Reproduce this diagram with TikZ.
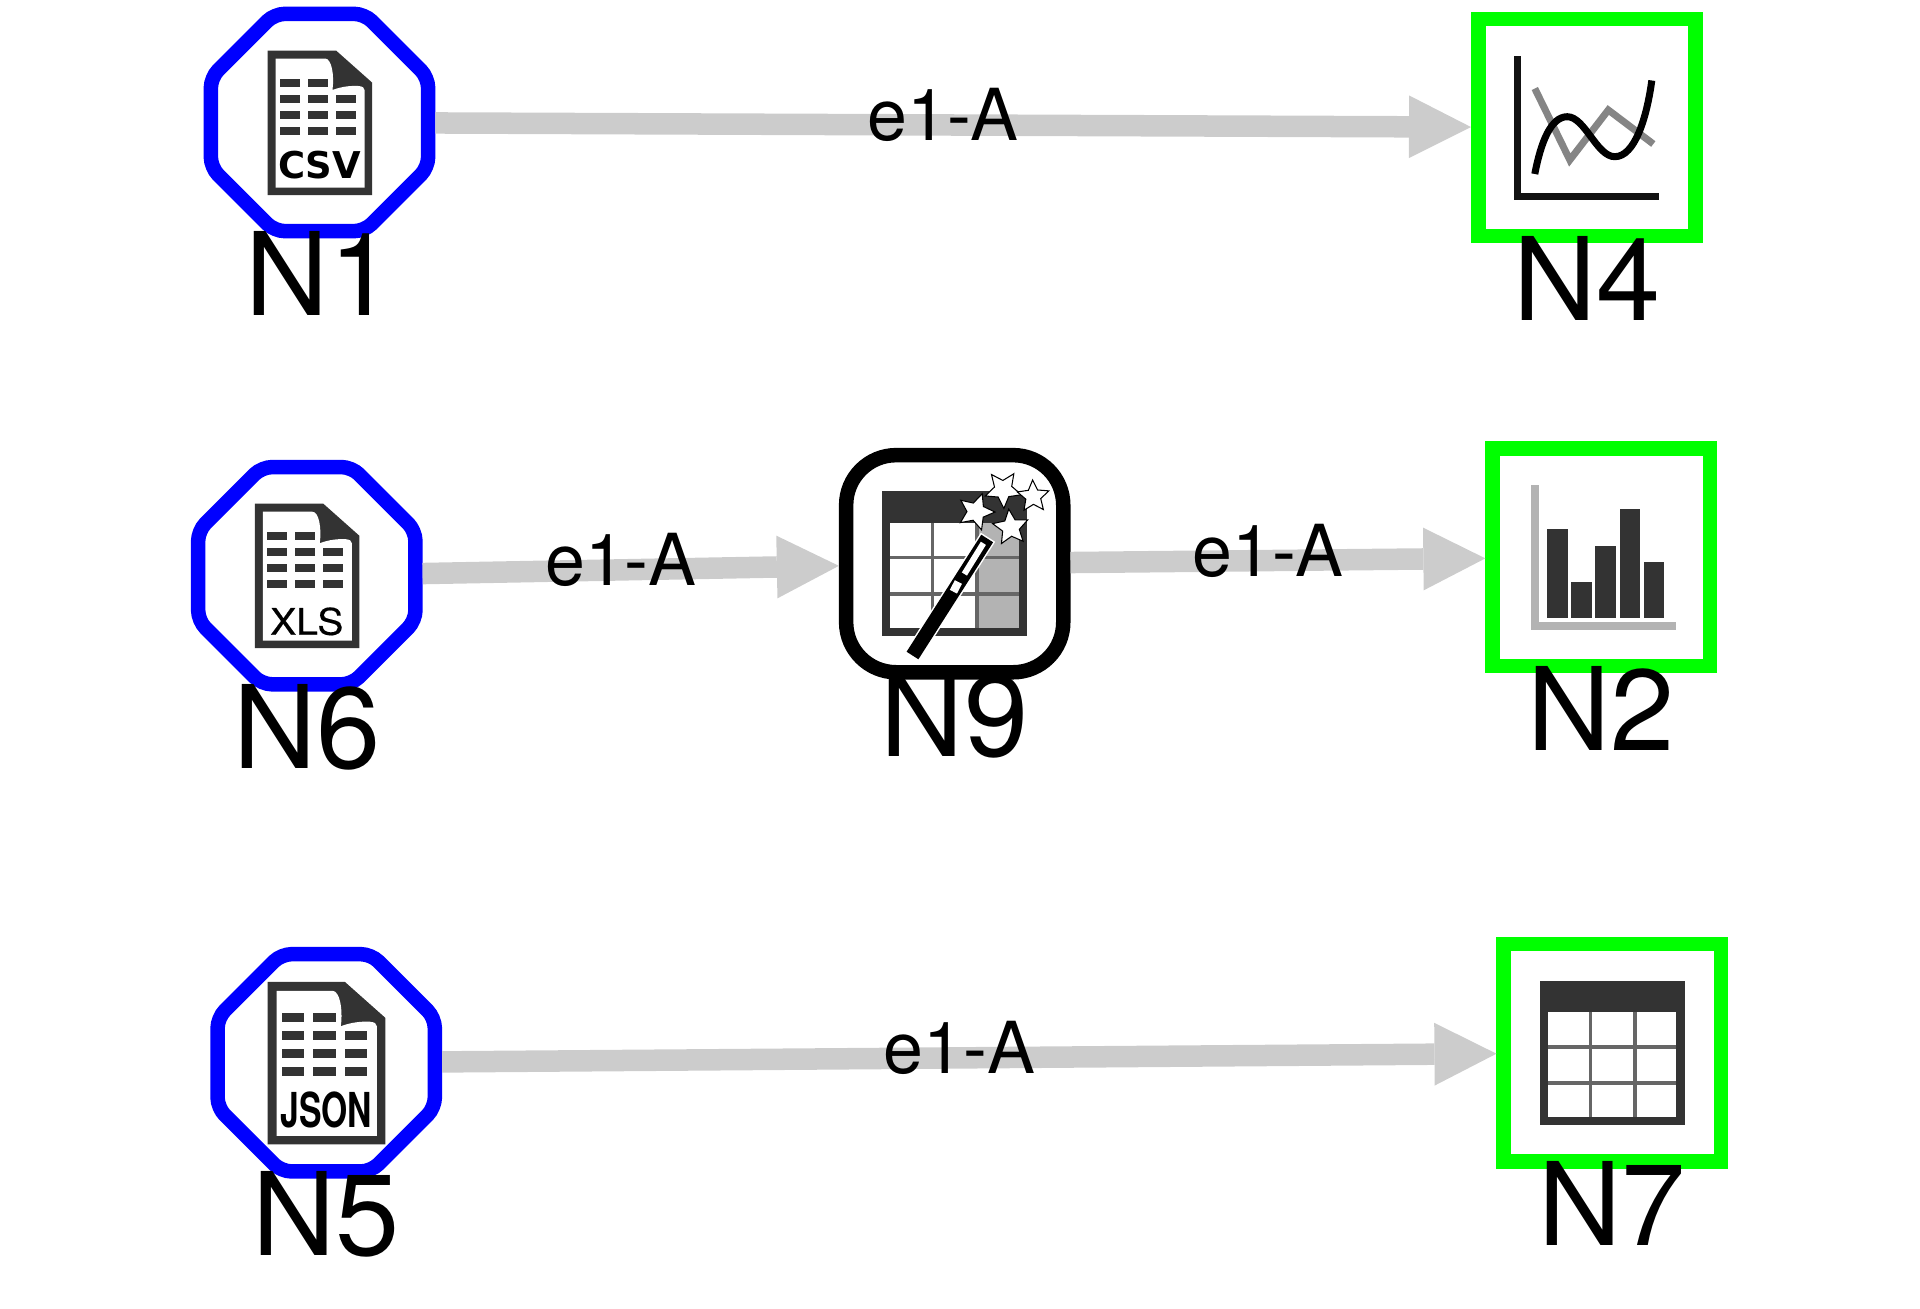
\documentclass[tikz,border=0pt]{standalone}
\usepackage{fontspec}
\setmainfont{TeX Gyre Heros}
\newfontfamily\csvfont{DejaVu Sans}
\usetikzlibrary{arrows.meta,shapes.geometric}

\definecolor{icondark}{HTML}{333333}
\definecolor{icongrid}{HTML}{666666}
\definecolor{iconlight}{HTML}{B3B3B3}
\definecolor{edgegray}{HTML}{CCCCCC}

\tikzset{
  sourcenode/.style={regular polygon,regular polygon sides=8,draw=blue,fill=white,
    line width=0.145cm,inner sep=0pt,minimum size=2.35cm,rounded corners=0.1cm},
  sinknode/.style={rectangle,draw=green,fill=white,line width=0.145cm,inner sep=0pt,minimum size=2.17cm},
  toolnode/.style={rectangle,draw=black,fill=white,line width=0.145cm,inner sep=0pt,minimum size=2.17cm,rounded corners=0.5cm},
  nodelabel/.style={anchor=base,inner sep=0pt,font=\fontsize{32.8}{40}\selectfont},
  edgeline/.style={draw=edgegray,line width=0.215cm,-{Triangle[length=0.62cm,width=0.627cm,line width=0pt]}},
  edgelabel/.style={midway,xshift=-0.1cm,yshift=0.1cm,inner sep=0pt,font=\fontsize{20.4}{25}\selectfont},
  magicstar/.style={star,star points=5,star point ratio=2.1,draw=black,fill=white,line width=0.3pt,inner sep=0pt},
}

% file icon: node, scale, text baseline, text
\newcommand{\docicon}[4]{
  \begin{scope}[shift={(#1)},scale=#2]
    \fill[icondark] (-52,-72) -- (16.5,-72) -- (52.5,-40) -- (52.5,72.5) -- (-52,72.5) -- cycle;
    \fill[white] (-44,-64) -- (5.5,-64) .. controls (12,-64) and (15,-48) .. (13,-32.5)
      .. controls (22,-36) and (32,-37) .. (39,-36.5) .. controls (43,-36) and (45,-35) .. (45,-32.5)
      -- (45,65) -- (-44,65) -- cycle;
    \foreach \y in {-28,-12,4}
      \foreach \x in {-39.5,-11.5,16.5}
        \fill[icondark] (\x,\y) rectangle ++(20,8);
    \foreach \x in {-39.5,-11.5}
      \fill[icondark] (\x,-44) rectangle ++(20,8);
    \node[anchor=base,inner sep=0pt] (#1-tag) at (0,#3) {#4};
  \end{scope}
}

% table icon: node, colour of the last column
\newcommand{\tableicon}[2]{
  \begin{scope}[shift={(#1)}]
    \fill[icondark] (-72.3,-72.3) rectangle (72.3,72.3);
    \fill[icongrid] (-64.3,-41) rectangle (64,64);
    \foreach \y/\yy in {-41/-8,-4.3/28,32/64} {
      \fill[white] (-64.3,\y) rectangle (-23.7,\yy);
      \fill[white] (-20.3,\y) rectangle (20.3,\yy);
      \fill[#2] (24.3,\y) rectangle (64,\yy);
    }
  \end{scope}
}

\begin{document}
\begin{tikzpicture}[x=0.01cm,y=-0.01cm]
  \useasboundingbox (0,0) rectangle (1920,1309);

  \node[sourcenode] (N1) at (319.5,122.5) {};
  \node[sourcenode] (N6) at (306.8,575.7) {};
  \node[sourcenode] (N5) at (326.2,1062.8) {};
  \node[sinknode] (N4) at (1586.8,127.5) {};
  \node[sinknode] (N2) at (1601.2,557.2) {};
  \node[sinknode] (N7) at (1612.3,1052.8) {};
  \node[toolnode] (N9) at (954.7,563.7) {};

  \draw[edgeline] (N1) -- (N4) node[edgelabel] (e14) {e1-A};
  \draw[edgeline] (N6) -- (N9) node[edgelabel] (e69) {e1-A};
  \draw[edgeline] (N9) -- (N2) node[edgelabel] (e92) {e1-A};
  \draw[edgeline] (N5) -- (N7) node[edgelabel] (e57) {e1-A};

  \docicon{N1}{1}{56}{\csvfont\bfseries\fontsize{10.5}{12}\selectfont CSV}
  \docicon{N6}{1}{59}{\scalebox{1.07}[1]{\addfontfeature{FakeBold=0.4}\fontsize{10.4}{12}\selectfont XLS}}
  \docicon{N5}{1.125}{57.8}{\scalebox{0.7}[1]{\bfseries\fontsize{13.7}{16}\selectfont JSON}}

  \tableicon{N7}{white}
  \tableicon{N9}{iconlight}

  % magic wand on N9
  \begin{scope}[shift={(N9)},xshift=0.005cm,yshift=-0.008cm]
    \draw[white,line width=0.17cm] (-43.5,92.3) -- (32.8,-27.3);
    \draw[black,line width=0.14cm] (-42.7,91) -- (32,-26);
    \draw[white,line width=0.06cm] (28.2,-21.2) -- (9.2,9.5);
    \draw[white,line width=0.08cm] (3.2,17.5) -- (-1.8,27.2);
    \foreach \sx/\sy/\sr/\srot/\sname in {48/-75/38/38/b,78/-68/33/2/c,20.8/-52.8/38/-19/a,55.5/-37/37/6/d}
      \node[magicstar,minimum size=\sr*0.1cm/10,rotate=\srot] (star-\sname) at (\sx,\sy) {};
  \end{scope}

  % line chart on N4
  \begin{scope}[shift={(N4)}]
    \draw[icongrid!80,line width=0.07cm] (-52,-39) -- (-17,32.5) -- (21.5,-17.5) -- (66.5,16.5);
    \draw[black,line width=0.07cm] (-52,46.5) .. controls (-46,15) and (-36,-10.8) .. (-19.5,-10.8)
      .. controls (-2,-10.8) and (10,29.2) .. (28,29.2) .. controls (48,29.2) and (60,-10) .. (65,-47);
    \fill[black!93] (-72.8,-71.8) rectangle (-65.8,72.8);
    \fill[black!93] (-72.8,65.8) rectangle (72.5,72.8);
  \end{scope}

  % bar chart on N2
  \begin{scope}[shift={(N2)}]
    \fill[iconlight] (-70.2,-72) rectangle (-61.8,73);
    \fill[iconlight] (-70.2,65) rectangle (74.8,73);
    \foreach \x/\h in {-53.8/-27.8,-29.8/24.8,-5.8/-11.5,18.5/-47.8,42.5/4.5}
      \fill[icondark] (\x,\h) rectangle ++(20.3,60.8-\h);
  \end{scope}

  \node[nodelabel] (N1-label) at ([yshift=-1.93cm]N1.center) {N1};
  \node[nodelabel] (N6-label) at ([yshift=-1.93cm]N6.center) {N6};
  \node[nodelabel] (N5-label) at ([yshift=-1.93cm]N5.center) {N5};
  \node[nodelabel] (N4-label) at ([yshift=-1.93cm]N4.center) {N4};
  \node[nodelabel] (N2-label) at ([yshift=-1.93cm]N2.center) {N2};
  \node[nodelabel] (N7-label) at ([yshift=-1.93cm]N7.center) {N7};
  \node[nodelabel] (N9-label) at ([yshift=-1.93cm]N9.center) {N9};
\end{tikzpicture}
\end{document}
